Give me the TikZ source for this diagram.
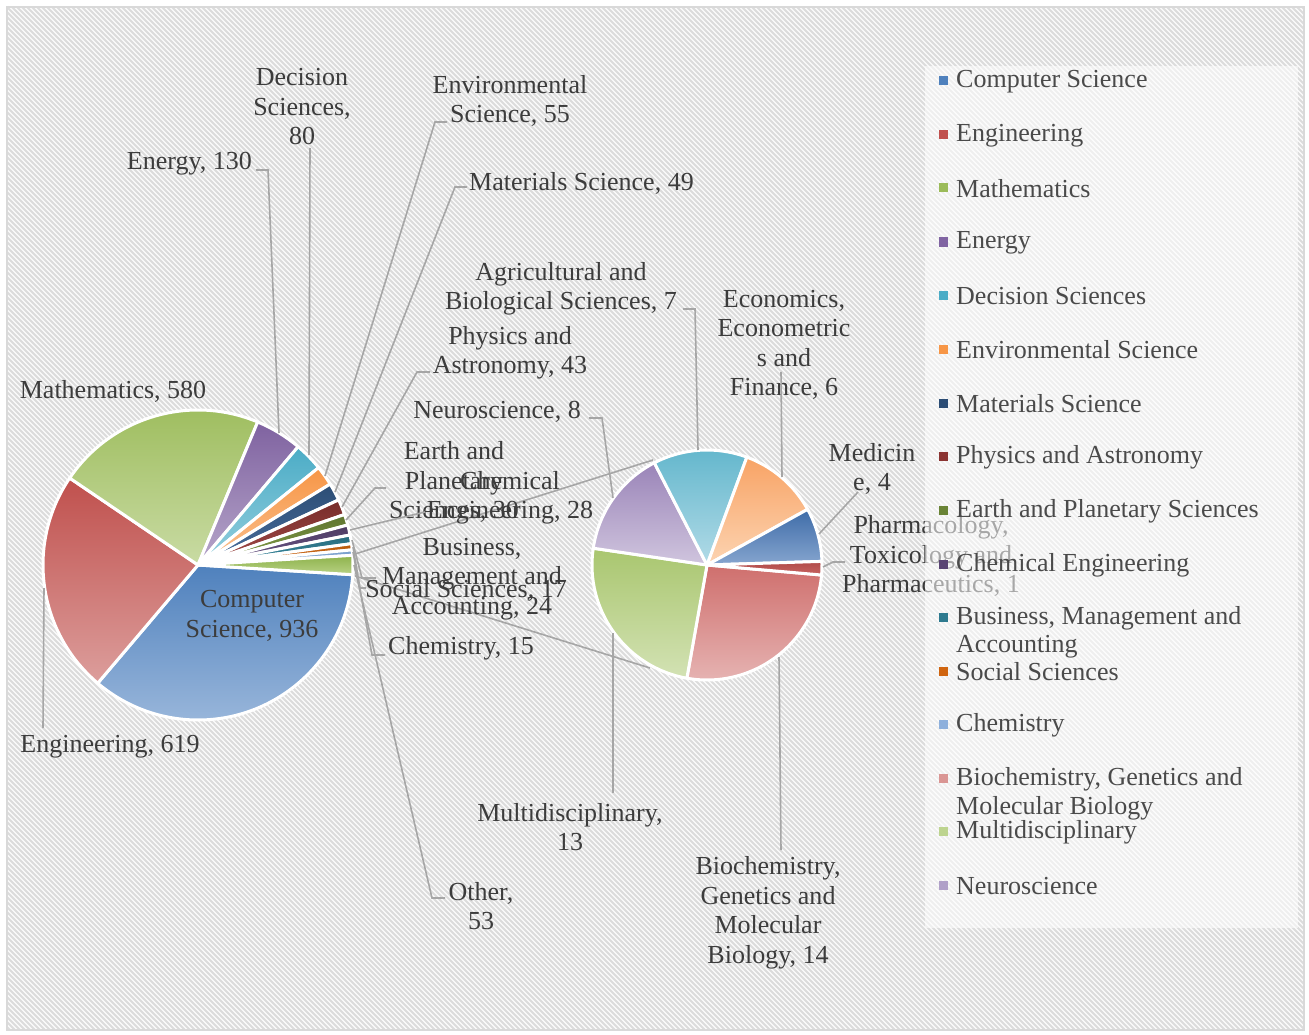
\documentclass[tikz,border=0pt]{standalone}
\usepackage{fontspec}
\setmainfont{Liberation Serif}
\definecolor{labeltext}{HTML}{3C3C3C}
\definecolor{legendtext}{HTML}{4A4A4A}
\definecolor{leadergray}{HTML}{A6A6A6}
\definecolor{framegray}{HTML}{D9D9D9}
\definecolor{bgfill}{HTML}{FBFBFB}
\definecolor{stripecol}{HTML}{DCDCDC}
% left pie colours (top / bottom)
\definecolor{csA}{HTML}{4F81BD}\definecolor{csB}{HTML}{9AB7DB}
\definecolor{enA}{HTML}{C0504D}\definecolor{enB}{HTML}{DC9E9C}
\definecolor{maA}{HTML}{9BBB59}\definecolor{maB}{HTML}{C9DBA4}
\definecolor{egA}{HTML}{7F62A0}\definecolor{egB}{HTML}{B6A6CA}
\definecolor{deA}{HTML}{4BACC6}\definecolor{deB}{HTML}{95CFDE}
\definecolor{evA}{HTML}{F79646}\definecolor{evB}{HTML}{FAC191}
\definecolor{mtA}{HTML}{2C4D75}\definecolor{mtB}{HTML}{4A6F9E}
\definecolor{phA}{HTML}{772C2A}\definecolor{phB}{HTML}{A34B48}
\definecolor{eaA}{HTML}{5F7530}\definecolor{eaB}{HTML}{85A04A}
\definecolor{ceA}{HTML}{4D3B62}\definecolor{ceB}{HTML}{6E5A8C}
\definecolor{buA}{HTML}{276A7C}\definecolor{buB}{HTML}{3E8FA5}
\definecolor{soA}{HTML}{B65708}\definecolor{soB}{HTML}{E07B2E}
\definecolor{chA}{HTML}{729ACA}\definecolor{chB}{HTML}{A8C2E2}
\definecolor{otA}{HTML}{8DB24A}\definecolor{otB}{HTML}{B9D286}
% right pie colours
\definecolor{biA}{HTML}{CF6F6D}\definecolor{biB}{HTML}{E6B4B3}
\definecolor{muA}{HTML}{A9C66F}\definecolor{muB}{HTML}{D3E2B4}
\definecolor{neA}{HTML}{9A84B8}\definecolor{neB}{HTML}{D0C5DE}
\definecolor{agA}{HTML}{62B6CC}\definecolor{agB}{HTML}{B2DBE7}
\definecolor{ecA}{HTML}{F8A365}\definecolor{ecB}{HTML}{FCD4B2}
\definecolor{meA}{HTML}{3E6CA8}\definecolor{meB}{HTML}{86A5CF}
\definecolor{prA}{HTML}{B04A48}\definecolor{prB}{HTML}{C86462}
% legend marker colours
\definecolor{mkCS}{HTML}{4F81BD}\definecolor{mkEN}{HTML}{C0504D}
\definecolor{mkMA}{HTML}{9BBB59}\definecolor{mkEG}{HTML}{8064A2}
\definecolor{mkDE}{HTML}{4BACC6}\definecolor{mkEV}{HTML}{F79646}
\definecolor{mkMT}{HTML}{2C4D75}\definecolor{mkPH}{HTML}{8B3432}
\definecolor{mkEA}{HTML}{6A8436}\definecolor{mkCE}{HTML}{5A4574}
\definecolor{mkBU}{HTML}{2E7A8F}\definecolor{mkSO}{HTML}{D06510}
\definecolor{mkCH}{HTML}{8EB0DC}\definecolor{mkBI}{HTML}{DA9694}
\definecolor{mkMU}{HTML}{BDD48F}\definecolor{mkNE}{HTML}{B0A0C8}
\newcommand\pieslice[7]{%
  \path[slice, top color=#6, bottom color=#7] (#1,#2) -- ++({#3*cos(#4)},{-#3*sin(#4)})
    arc[start angle={-(#4)}, end angle={-(#5)}, radius=#3] -- cycle;}
\begin{document}
\begin{tikzpicture}[x=1pt,y=-1pt,
  lbl/.style={font=\fontsize{26}{29.5}\selectfont, text=labeltext, inner sep=0pt, align=center},
  lgd/.style={font=\fontsize{26}{29.5}\selectfont, text=legendtext, inner sep=0pt, anchor=west},
  mk/.style={minimum size=9pt, inner sep=0pt, draw=none, rectangle},
  leader/.style={draw=leadergray, line width=1.6pt},
  stripe/.style={draw=stripecol, line width=1.8pt},
  slice/.style={draw=white, line width=3pt, line join=round}]
\useasboundingbox (0,0) rectangle (1309,1035);
\fill[white] (0,0) rectangle (1309,1035);
% background hatch
\begin{scope}
  \clip (7,7) rectangle (1304,1030);
  \fill[bgfill] (7,7) rectangle (1304,1030);
  \foreach \c in {-1045,-1040,...,1310} \draw[stripe] (\c,0) -- ++(1050,1050);
\end{scope}
\draw[framegray, line width=1.6pt] (7,7) rectangle (1304,1030);

% ---------- left pie ----------
\pieslice{198}{565}{155}{-3.59}{-130.31}{csA}{csB}
\pieslice{198}{565}{155}{-130.31}{-214.12}{enA}{enB}
\pieslice{198}{565}{155}{-214.12}{-292.65}{maA}{maB}
\pieslice{198}{565}{155}{-292.65}{-310.25}{egA}{egB}
\pieslice{198}{565}{155}{-310.25}{-321.08}{deA}{deB}
\pieslice{198}{565}{155}{-321.08}{-328.53}{evA}{evB}
\pieslice{198}{565}{155}{-328.53}{-335.16}{mtA}{mtB}
\pieslice{198}{565}{155}{-335.16}{-340.98}{phA}{phB}
\pieslice{198}{565}{155}{-340.98}{-345.04}{eaA}{eaB}
\pieslice{198}{565}{155}{-345.04}{-348.83}{ceA}{ceB}
\pieslice{198}{565}{155}{-348.83}{-352.08}{buA}{buB}
\pieslice{198}{565}{155}{-352.08}{-354.38}{soA}{soB}
\pieslice{198}{565}{155}{-354.38}{-356.41}{chA}{chB}
\pieslice{198}{565}{155}{-356.41}{-363.59}{otA}{otB}

% ---------- right pie ----------
\pieslice{707}{565}{115}{-5}{-100.09}{biA}{biB}
\pieslice{707}{565}{115}{-100.09}{-188.39}{muA}{muB}
\pieslice{707}{565}{115}{-188.39}{-242.73}{neA}{neB}
\pieslice{707}{565}{115}{-242.73}{-290.28}{agA}{agB}
\pieslice{707}{565}{115}{-290.28}{-331.03}{ecA}{ecB}
\pieslice{707}{565}{115}{-331.03}{-358.20}{meA}{meB}
\pieslice{707}{565}{115}{-358.20}{-365}{prA}{prB}

% ---------- series lines ----------
\coordinate (oTop) at (355,554);
\coordinate (oBot) at (355,576);
\coordinate (sTop) at (653,460);
\coordinate (sBot) at (650,668);
\draw[leader] (oTop) -- (sTop);
\draw[leader] (oBot) -- (sBot);

% ---------- labels ----------
\node[lbl] (lDecision) at (302,107) {Decision\\Sciences,\\80};
\node[lbl, anchor=east] (lEnergy) at (252,164) {Energy, 130};
\node[lbl] (lEnv) at (510,101) {Environmental\\Science, 55};
\node[lbl, anchor=west] (lMat) at (469,183) {Materials Science, 49};
\node[lbl] (lAgri) at (561,289) {Agricultural and\\Biological Sciences, 7};
\node[lbl] (lPhys) at (510,353) {Physics and\\Astronomy, 43};
\node[lbl] (lNeuro) at (497,412) {Neuroscience, 8};
\node[lbl] (lEarth) at (454,482) {Earth and\\Planetary\\Sciences, 30};
\node[lbl] (lChemEng) at (510,498) {Chemical\\Engineering, 28};
\node[lbl] (lBus) at (472,579) {Business,\\Management and\\Accounting, 24};
\node[lbl] (lSoc) at (466,590) {Social Sciences, 17};
\node[lbl] (lChem) at (461,648) {Chemistry, 15};
\node[lbl] (lOther) at (481,906) {Other,\\53};
\node[lbl] (lMulti) at (570,827) {Multidisciplinary,\\13};
\node[lbl] (lBio) at (768,913) {Biochemistry,\\Genetics and\\Molecular\\Biology, 14};
\node[lbl] (lEcon) at (784,345) {Economics,\\Econometric\\s and\\Finance, 6};
\node[lbl] (lMed) at (872,469) {Medicin\\e, 4};
\node[lbl] (lPharm) at (931,556) {Pharmacology,\\Toxicology and\\Pharmaceutics, 1};
\node[lbl] (lMath) at (113,391) {Mathematics, 580};
\node[lbl] (lEng) at (110,747) {Engineering, 619};
\node[lbl] (lCS) at (252,616) {Computer\\Science, 936};

% ---------- leader lines ----------
\coordinate (pEnergy) at (279,433); \coordinate (kEnergy) at (268,170); \coordinate (tEnergy) at (256,170);
\draw[leader] (pEnergy) -- (kEnergy) -- (tEnergy);
\coordinate (pDec) at (309,455); \coordinate (tDec) at (310,148);
\draw[leader] (pDec) -- (tDec);
\coordinate (pEnv) at (325,476); \coordinate (kEnv) at (435,122); \coordinate (tEnv) at (447,122);
\draw[leader] (pEnv) -- (kEnv) -- (tEnv);
\coordinate (pMat) at (335,492); \coordinate (kMat) at (455,187); \coordinate (tMat) at (467,187);
\draw[leader] (pMat) -- (kMat) -- (tMat);
\coordinate (pPhys) at (342,507); \coordinate (kPhys) at (417,372); \coordinate (tPhys) at (430,372);
\draw[leader] (pPhys) -- (kPhys) -- (tPhys);
\coordinate (pEarth) at (346,520); \coordinate (kEarth) at (375,488); \coordinate (tEarth) at (386,488);
\draw[leader] (pEarth) -- (kEarth) -- (tEarth);
\coordinate (pChemEng) at (350,530); \coordinate (tChemEng) at (425,512);
\draw[leader] (pChemEng) -- (tChemEng);
\coordinate (pBus) at (352,540); \coordinate (kBus) at (362,578); \coordinate (tBus) at (376,578);
\draw[leader] (pBus) -- (kBus) -- (tBus);
\coordinate (pSoc) at (353,547); \coordinate (kSoc) at (360,588); \coordinate (tSoc) at (366,588);
\draw[leader] (pSoc) -- (kSoc) -- (tSoc);
\coordinate (pChem) at (353,552); \coordinate (kChem) at (372,655); \coordinate (tChem) at (385,655);
\draw[leader] (pChem) -- (kChem) -- (tChem);
\coordinate (pOther) at (354,565); \coordinate (kOther) at (432,898); \coordinate (tOther) at (445,898);
\draw[leader] (pOther) -- (kOther) -- (tOther);
\coordinate (pEng) at (44,588); \coordinate (tEng) at (43,728);
\draw[leader] (pEng) -- (tEng);
\coordinate (pAgri) at (698,450); \coordinate (kAgri) at (695,309); \coordinate (tAgri) at (683,309);
\draw[leader] (pAgri) -- (kAgri) -- (tAgri);
\coordinate (pEcon) at (782,477); \coordinate (tEcon) at (781,372);
\draw[leader] (pEcon) -- (tEcon);
\coordinate (pMed) at (819,534); \coordinate (tMed) at (858,492);
\draw[leader] (pMed) -- (tMed);
\coordinate (pPharm) at (823,567); \coordinate (kPharm) at (833,562); \coordinate (tPharm) at (845,562);
\draw[leader] (pPharm) -- (kPharm) -- (tPharm);
\coordinate (pNeuro) at (613,498); \coordinate (kNeuro) at (602,418); \coordinate (tNeuro) at (589,418);
\draw[leader] (pNeuro) -- (kNeuro) -- (tNeuro);
\coordinate (pMulti) at (613,633); \coordinate (tMulti) at (613,793);
\draw[leader] (pMulti) -- (tMulti);
\coordinate (pBio) at (779,657); \coordinate (tBio) at (781,850);
\draw[leader] (pBio) -- (tBio);

% ---------- legend ----------
\fill[white, opacity=0.55] (925,66) rectangle (1298,928);
\node[mk, fill=mkCS] (m1) at (943.5,81) {};  \node[lgd] (g1) at (956,82) {Computer Science};
\node[mk, fill=mkEN] (m2) at (943.5,135) {}; \node[lgd] (g2) at (956,136) {Engineering};
\node[mk, fill=mkMA] (m3) at (943.5,188) {}; \node[lgd] (g3) at (956,189) {Mathematics};
\node[mk, fill=mkEG] (m4) at (943.5,242) {}; \node[lgd] (g4) at (956,243) {Energy};
\node[mk, fill=mkDE] (m5) at (943.5,295) {}; \node[lgd] (g5) at (956,296) {Decision Sciences};
\node[mk, fill=mkEV] (m6) at (943.5,349) {}; \node[lgd] (g6) at (956,350) {Environmental Science};
\node[mk, fill=mkMT] (m7) at (943.5,403) {}; \node[lgd] (g7) at (956,404) {Materials Science};
\node[mk, fill=mkPH] (m8) at (943.5,456) {}; \node[lgd] (g8) at (956,457) {Physics and Astronomy};
\node[mk, fill=mkEA] (m9) at (943.5,510) {}; \node[lgd] (g9) at (956,511) {Earth and Planetary Sciences};
\node[mk, fill=mkCE] (m10) at (943.5,564) {}; \node[lgd] (g10) at (956,565) {Chemical Engineering};
\node[mk, fill=mkBU] (m11) at (943.5,617) {}; \node[lgd] (g11) at (956,618) {Business, Management and};
\node[lgd] (g11b) at (956,647) {Accounting};
\node[mk, fill=mkSO] (m12) at (943.5,671) {}; \node[lgd] (g12) at (956,672) {Social Sciences};
\node[mk, fill=mkCH] (m13) at (943.5,724) {}; \node[lgd] (g13) at (956,725) {Chemistry};
\node[mk, fill=mkBI] (m14) at (943.5,778) {}; \node[lgd] (g14) at (956,779) {Biochemistry, Genetics and};
\node[lgd] (g14b) at (956,808) {Molecular Biology};
\node[mk, fill=mkMU] (m15) at (943.5,831) {}; \node[lgd] (g15) at (956,832) {Multidisciplinary};
\node[mk, fill=mkNE] (m16) at (943.5,885) {}; \node[lgd] (g16) at (956,886) {Neuroscience};
\end{tikzpicture}
\end{document}
